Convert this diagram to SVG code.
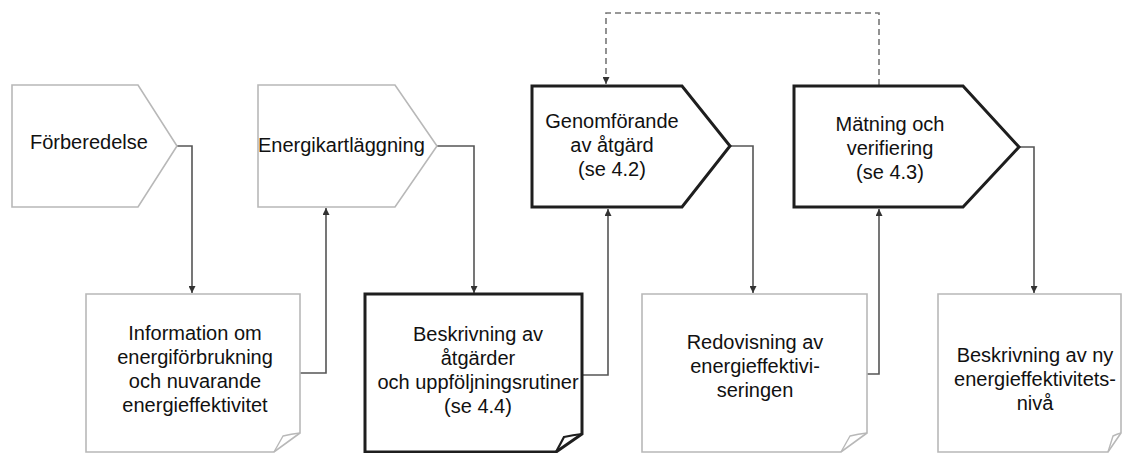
<svg xmlns="http://www.w3.org/2000/svg" width="1122" height="453" viewBox="0 0 1122 453">
<style>
  text { font-family: "Liberation Sans", Arial, sans-serif; font-size: 20px; fill: #111; }
  .c { text-anchor: middle; }
  .light { fill: #fff; stroke: #b8b8b8; stroke-width: 1.6; stroke-linejoin: miter; }
  .dark { fill: #fff; stroke: #1e1e1e; stroke-width: 3; stroke-linejoin: miter; }
  .foldl { fill: none; stroke: #b8b8b8; stroke-width: 1.4; }
  .foldd { fill: none; stroke: #1e1e1e; stroke-width: 2.2; }
  .conn { fill: none; stroke: #555; stroke-width: 1.6; }
  .dash { fill: none; stroke: #777; stroke-width: 1.6; stroke-dasharray: 6 4; }
</style>
<defs>
  <marker id="arr" viewBox="0 0 10 10" refX="10" refY="5" markerWidth="7" markerHeight="7" markerUnits="userSpaceOnUse" orient="auto">
    <path d="M0,0 L10,5 L0,10 Z" fill="#333"/>
  </marker>
</defs>
<rect width="1122" height="453" fill="#fff"/>

<g id="connectors">
  <path class="conn" d="M177,146 H192 V293" marker-end="url(#arr)"/>
  <path class="conn" d="M300,373 H326 V208" marker-end="url(#arr)"/>
  <path class="conn" d="M437,146 H474 V293" marker-end="url(#arr)"/>
  <path class="conn" d="M582,375 H608 V209" marker-end="url(#arr)"/>
  <path class="conn" d="M730,146 H753 V293" marker-end="url(#arr)"/>
  <path class="conn" d="M867,374 H879 V209" marker-end="url(#arr)"/>
  <path class="conn" d="M1019,147 H1034 V293" marker-end="url(#arr)"/>
  <path class="dash" d="M879,85 V13 H606 V84" marker-end="url(#arr)"/>
</g>

<g id="n-forberedelse">
  <polygon class="light" points="12,85 138,85 177,146 138,207 12,207"/>
  <text x="30" y="149">Förberedelse</text>
</g>
<g id="n-energikartlaggning">
  <polygon class="light" points="258,85 395,85 437,146 395,207 258,207"/>
  <text x="258" y="152">Energikartläggning</text>
</g>
<g id="n-genomforande">
  <polygon class="dark" points="532,86 682,86 730,146 682,207 532,207"/>
  <text class="c" x="612" y="128">Genomförande</text>
  <text class="c" x="612" y="152">av åtgärd</text>
  <text class="c" x="612" y="176">(se 4.2)</text>
</g>
<g id="n-matning">
  <polygon class="dark" points="794,86 963,86 1019,147 963,207 794,207"/>
  <text class="c" x="890" y="131">Mätning och</text>
  <text class="c" x="890" y="155">verifiering</text>
  <text class="c" x="890" y="179">(se 4.3)</text>
</g>

<g id="d-information">
  <path class="light" d="M86,294 H300 V433 L274,452 H86 Z"/>
  <path class="foldl" d="M300,433 Q291,434 283,436 L274,452"/>
  <text class="c" x="195" y="340">Information om</text>
  <text class="c" x="195" y="364">energiförbrukning</text>
  <text class="c" x="195" y="388">och nuvarande</text>
  <text class="c" x="195" y="412">energieffektivitet</text>
</g>
<g id="d-beskrivning-atgarder">
  <path class="dark" d="M365,294 H582 V434 L556,452 H365 Z"/>
  <path class="foldd" d="M582,434 Q573,435 564,437 L556,452"/>
  <text class="c" x="478" y="341">Beskrivning av</text>
  <text class="c" x="478" y="365">åtgärder</text>
  <text class="c" x="478" y="389">och uppföljningsrutiner</text>
  <text class="c" x="478" y="413">(se 4.4)</text>
</g>
<g id="d-redovisning">
  <path class="light" d="M642,294 H867 V433 L841,452 H642 Z"/>
  <path class="foldl" d="M867,433 Q858,434 850,436 L841,452"/>
  <text class="c" x="755" y="349">Redovisning av</text>
  <text class="c" x="755" y="373">energieffektivi-</text>
  <text class="c" x="755" y="397">seringen</text>
</g>
<g id="d-beskrivning-ny">
  <path class="light" d="M938,294 H1121 V433 L1108,452 H938 Z"/>
  <path class="foldl" d="M1121,433 Q1117,434 1113,436 L1108,452"/>
  <text class="c" x="1035" y="362">Beskrivning av ny</text>
  <text class="c" x="1035" y="386">energieffektivitets-</text>
  <text class="c" x="1035" y="410">nivå</text>
</g>
</svg>
